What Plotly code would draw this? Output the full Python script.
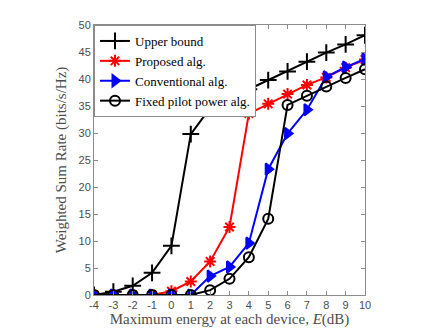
import plotly.graph_objects as go

energy = [-4, -3, -2, -1, 0, 1, 2, 3, 4, 5, 6, 7, 8, 9, 10]
energy_labels = ["-4", "-3", "-2", "-1", "0", "1", "2", "3", "4", "5", "6", "7", "8", "9", "10"]
upper_bound = [0, 0.6, 1.7, 4.1, 9.1, 29.8, 34.6, 36.1, 38.1, 39.8, 41.4, 43.2, 44.9, 46.4, 48.1]
proposed = [0, 0, 0, 0, 0.7, 2.5, 6.2, 12.6, 33.6, 35.4, 37.2, 38.9, 40.3, 42.1, 43.6]
conventional = [0, 0, 0, 0, 0, 0, 3.5, 5.2, 9.6, 23.3, 29.9, 34.3, 40.4, 42.2, 43.7]
fixed_pilot = [0, 0, 0, 0, 0, 0, 0.9, 3.0, 7.0, 14.1, 35.2, 36.9, 38.6, 40.2, 41.8]

fig = go.Figure()

series = [
    ("Upper bound", upper_bound, "black", "cross-thin-open", 12),
    ("Proposed alg.", proposed, "red", "asterisk-open", 10),
    ("Conventional alg.", conventional, "blue", "triangle-right", 10),
    ("Fixed pilot power alg.", fixed_pilot, "black", "circle-open", 10),
]
for name, vals, col, sym, size in series:
    fig.add_trace(go.Scatter(
        x=energy, y=vals, name=name, mode="lines+markers",
        line=dict(color=col, width=2),
        marker=dict(symbol=sym, size=size, color=col, line=dict(color=col, width=2)),
    ))

axis_common = dict(
    showline=True, linecolor="#8c8c8c", linewidth=1, mirror="ticks",
    ticks="inside", ticklen=4, tickcolor="#8c8c8c", showgrid=False, zeroline=False,
    tickfont=dict(family="Liberation Sans, Arial", size=11, color="#4d4d4d"),
)

fig.update_xaxes(
    range=[-4, 10], tickvals=energy, ticktext=energy_labels, **axis_common,
    title=dict(text="Maximum energy at each device, <i>E</i>(dB)", standoff=2,
               font=dict(family="Liberation Serif, Times New Roman", size=15, color="#4d4d4d")),
)
fig.update_yaxes(
    range=[0, 50], dtick=5, **axis_common,
    title=dict(text="Weighted Sum Rate (bits/s/Hz)", standoff=8,
               font=dict(family="Liberation Serif, Times New Roman", size=15, color="#4d4d4d")),
)

# page body adds an 8px offset, margins account for it
fig.update_layout(
    width=443, height=332,
    margin=dict(l=86, r=86, t=17, b=45),
    plot_bgcolor="white", paper_bgcolor="white",
    legend=dict(
        x=0, y=1, xanchor="left", yanchor="top",
        bgcolor="white", bordercolor="#8c8c8c", borderwidth=1,
        font=dict(family="Liberation Serif, Times New Roman", size=13, color="black"),
        tracegroupgap=0, itemwidth=30,
    ),
)

fig.write_html("out.html")
